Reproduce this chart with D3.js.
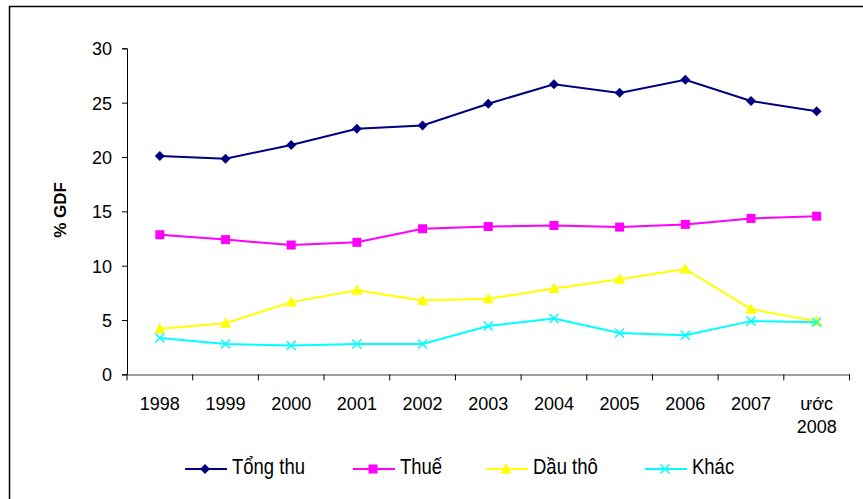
<!DOCTYPE html>
<html><head><meta charset="utf-8">
<script src="https://cdn.jsdelivr.net/npm/d3@7"></script>
<style>body{margin:0;background:#fff}svg{display:block}text{font-family:"Liberation Sans",Arial,sans-serif;}</style>
</head><body>
<svg id="c" width="863" height="499"></svg>
<script>
const categories = ["1998","1999","2000","2001","2002","2003","2004","2005","2006","2007","ước\n2008"];
const tongThu = [20.1,19.85,21.1,22.6,22.9,24.9,26.7,25.9,27.1,25.15,24.2];
const thue = [12.85,12.4,11.9,12.15,13.4,13.6,13.7,13.55,13.8,14.35,14.55];
const dauTho = [4.2,4.7,6.65,7.75,6.8,6.95,7.9,8.75,9.7,6.0,4.9];
const khac = [3.35,2.8,2.65,2.8,2.8,4.45,5.15,3.8,3.6,4.9,4.8];
const seriesNames = ["Tổng thu","Thuế","Dầu thô","Khác"];
const yTicks = [0,5,10,15,20,25,30];
const yLabel = "% GDF";

const seriesData = [tongThu, thue, dauTho, khac];
const colors = ["#000080","#FF00FF","#FFFF00","#00FFFF"];
const symbols = ["diamond","square","triangle","cross"];

const svg = d3.select("#c");
svg.append("rect").attr("x",9.5).attr("y",6.5).attr("width",900).attr("height",600)
  .attr("fill","none").attr("stroke","#000").attr("stroke-width",1.5);

const x = d3.scaleBand().domain(categories).range([127,849.5]);
const y = d3.scaleLinear().domain([0,30]).range([374.4,48.3]);

// y axis
const ya = svg.append("g").attr("transform","translate(127,0)")
  .call(d3.axisLeft(y).tickValues(yTicks).tickSize(5).tickPadding(10));
ya.selectAll("text").attr("font-size",18).attr("fill","#000").attr("font-family","Liberation Sans, Arial, sans-serif").attr("dy","0.36em");
ya.select(".domain").attr("stroke","#000");
ya.selectAll(".tick line").attr("stroke","#000");

// x axis
const xa = svg.append("g").attr("transform","translate(0,374.4)")
  .call(d3.axisBottom(x).tickSize(0).tickFormat(""));
xa.select(".domain").attr("stroke","#808080").attr("stroke-width",1.5);
const bounds = categories.map(c=>x(c)).concat([x.range()[1]]);
xa.selectAll(".bt").data(bounds).enter().append("line")
  .attr("x1",d=>d).attr("x2",d=>d).attr("y1",0).attr("y2",6).attr("stroke","#000");
categories.forEach(c=>{
  const lines = c.split("\n");
  const cx = x(c)+x.bandwidth()/2;
  const t = svg.append("text").attr("x",cx).attr("y",409.5)
    .attr("text-anchor","middle").attr("font-size",18).attr("fill","#000");
  lines.forEach((l,i)=>t.append("tspan").attr("x",cx).attr("dy",i?23.5:0).text(l));
});

// y label
svg.append("text").attr("transform","translate(66,210) rotate(-90)")
  .attr("text-anchor","middle").attr("font-size",17).attr("font-weight","bold").text(yLabel);

function marker(g, type, color){
  if(type==="diamond") g.append("path").attr("d","M0,-5L5,0L0,5L-5,0Z").attr("fill",color);
  else if(type==="square") g.append("rect").attr("x",-4.5).attr("y",-4.5).attr("width",9).attr("height",9).attr("fill",color);
  else if(type==="triangle") g.append("path").attr("d","M0,-6L5.5,4.5L-5.5,4.5Z").attr("fill",color);
  else { g.append("path").attr("d","M-4.5,-4.5L4.5,4.5M-4.5,4.5L4.5,-4.5").attr("stroke",color).attr("stroke-width",1.5).attr("fill","none"); }
}

const line = d3.line().x((d,i)=>x(categories[i])+x.bandwidth()/2).y(d=>y(d));
seriesData.forEach((s,k)=>{
  svg.append("path").datum(s).attr("d",line).attr("fill","none").attr("stroke",colors[k]).attr("stroke-width",2);
  s.forEach((v,i)=>{
    const g = svg.append("g").attr("transform",`translate(${x(categories[i])+x.bandwidth()/2},${y(v)})`);
    marker(g, symbols[k], colors[k]);
  });
});

// legend
const legX = [185,353,486,645];
seriesNames.forEach((n,k)=>{
  const g = svg.append("g").attr("transform",`translate(${legX[k]},469)`);
  g.append("line").attr("x1",0).attr("x2",42).attr("stroke",colors[k]).attr("stroke-width",2);
  const m = g.append("g").attr("transform","translate(20,0)");
  marker(m, symbols[k], colors[k]);
  g.append("text").attr("transform","translate(47,5) scale(1,1.2)").attr("font-size",18.5).attr("fill","#000").text(n);
});
</script>
</body></html>
